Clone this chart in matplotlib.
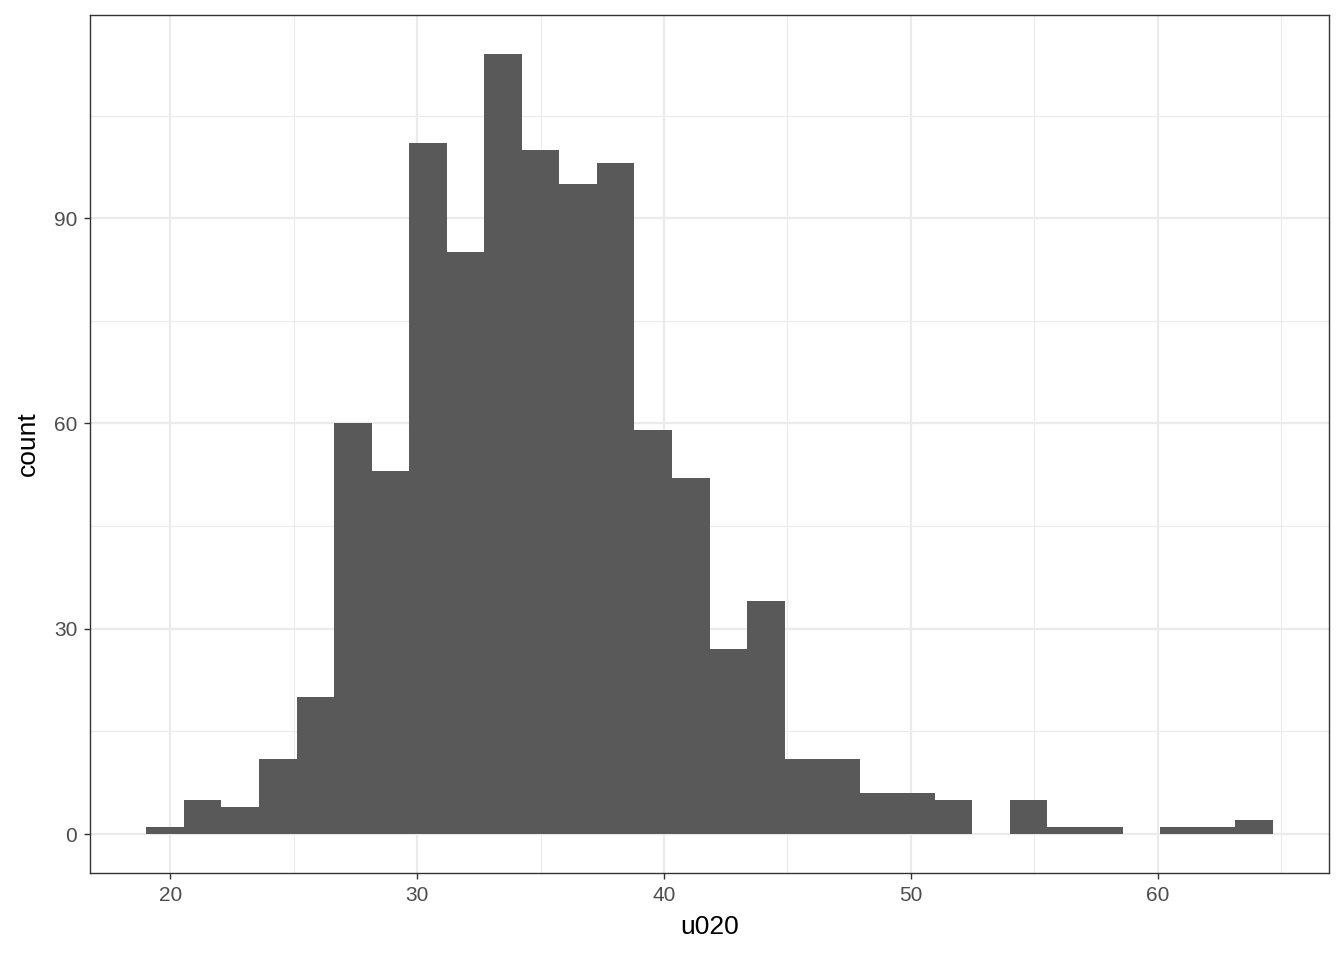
import numpy as np
import matplotlib
matplotlib.use("Agg")
import matplotlib.pyplot as plt

# histogram data (30 bins)
bin_start = 19.03
bin_width = 1.521
counts = [1, 5, 4, 11, 20, 60, 53, 101, 85, 114, 100, 95, 98, 59, 52,
          27, 34, 11, 11, 6, 6, 5, 0, 5, 1, 1, 0, 1, 1, 2]
x_ticks = [20, 30, 40, 50, 60]
y_ticks = [0, 30, 60, 90]
x_label = "u020"
y_label = "count"

plt.rcParams['font.family'] = ['Liberation Sans', 'DejaVu Sans']

edges = bin_start + bin_width * np.arange(len(counts) + 1)

fig = plt.figure(figsize=(13.44, 9.6), dpi=100)
ax = fig.add_axes([90/1344, 87/960, (1329-90)/1344, (873-15)/960])

ax.bar(edges[:-1], counts, width=bin_width, align='edge', color='#595959',
       linewidth=0, zorder=3)

xr = edges[-1] - edges[0]
ax.set_xlim(edges[0] - 0.05*xr, edges[-1] + 0.05*xr)
ymax = max(counts)
ax.set_ylim(-0.05*ymax, ymax*1.05)

ax.set_xticks(x_ticks)
ax.set_yticks(y_ticks)
ax.set_xticks([t + 5 for t in x_ticks], minor=True)
ax.set_yticks([15, 45, 75, 105], minor=True)
ax.grid(which='major', color='#EBEBEB', linewidth=1.6, zorder=0)
ax.grid(which='minor', color='#EBEBEB', linewidth=0.8, zorder=0)
ax.set_axisbelow(True)

ax.tick_params(which='major', length=4.2, width=1.0, color='#333333',
               labelsize=15, labelcolor='#4D4D4D', pad=5)
ax.tick_params(which='minor', length=0)
for s in ax.spines.values():
    s.set_color('#333333')
    s.set_linewidth(1.0)

ax.set_xlabel(x_label, fontsize=19, color='black', labelpad=7)
ax.set_ylabel(y_label, fontsize=19, color='black', labelpad=10)

fig.savefig("out.png", dpi=100)
